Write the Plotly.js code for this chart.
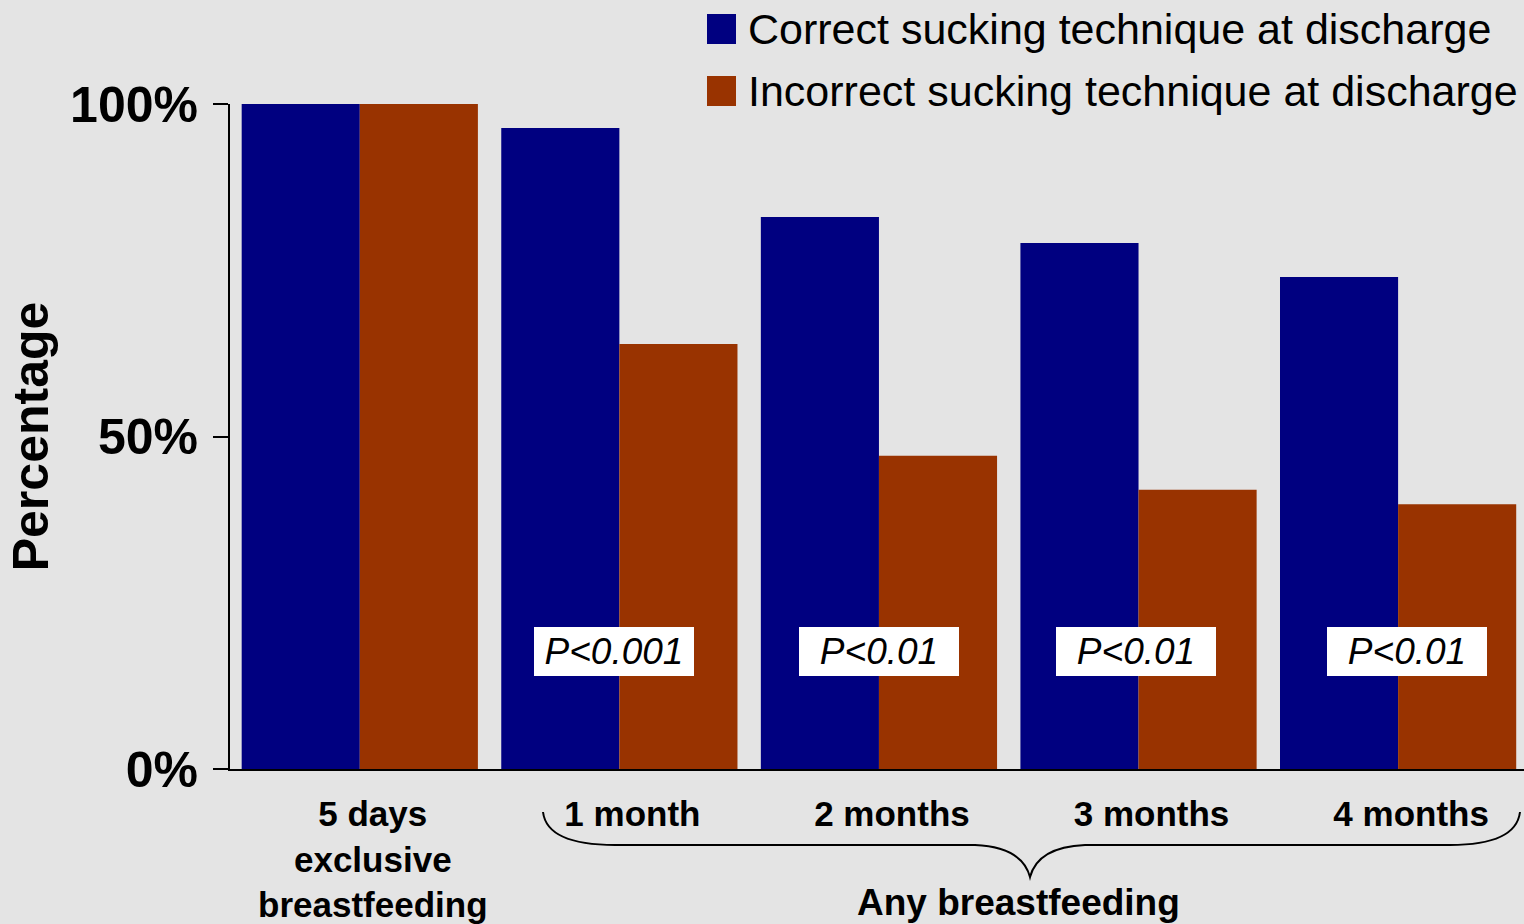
<!DOCTYPE html>
<html>
<head>
<meta charset="utf-8">
<script src="https://cdn.plot.ly/plotly-3.0.1.min.js"></script>
<style>
  html, body { margin: 0; padding: 0; background: #e4e4e4; }
  #chart { width: 1524px; height: 924px; }
</style>
</head>
<body>
<div id="chart"></div>
<script>
const categories = ["5 days<br>exclusive<br>breastfeeding", "1 month", "2 months", "3 months", "4 months"];
const correctValues = [100, 96.4, 83.0, 79.1, 74.0];
const incorrectValues = [100, 63.9, 47.1, 42.0, 39.8];
const seriesNames = ["Correct sucking technique at discharge", "Incorrect sucking technique at discharge"];
const pLabels = ["P<0.001", "P<0.01", "P<0.01", "P<0.01"];
const pCategories = ["1 month", "2 months", "3 months", "4 months"];
const groupLabel = "Any breastfeeding";
const yTickVals = [0, 50, 100];
const yTickText = ["0%", "50%", "100%"];

const BLUE = "#000080", ORANGE = "#993300";
const FONT = "Liberation Sans, Arial, sans-serif";

// plot area geometry (pixels) for decorative shapes
const L = 230, R = 1524, T = 104, B = 769;
const px = x => (x - L) / (R - L);
const py = y => (B - y) / (B - T);

const traces = [
  { type: "bar", name: seriesNames[0], x: categories, y: correctValues, marker: { color: BLUE }, hoverinfo: "y" },
  { type: "bar", name: seriesNames[1], x: categories, y: incorrectValues, marker: { color: ORANGE }, hoverinfo: "y" }
];

const annotations = pLabels.map((t, i) => ({
  x: pCategories[i], y: 17.6, xref: "x", yref: "y",
  text: t, showarrow: false,
  font: { family: FONT, size: 37, color: "#000", style: "italic" },
  bgcolor: "#ffffff", borderwidth: 0, borderpad: 2,
  width: 156, height: 45, xanchor: "center", yanchor: "middle",
  xshift: [-5, 0, -3, 9][i]
}));

annotations.push({
  x: px(1018), y: py(902), xref: "paper", yref: "paper",
  text: groupLabel, showarrow: false,
  font: { family: FONT, size: 37, color: "#000", weight: "bold" },
  xanchor: "center", yanchor: "middle"
});

// custom legend
const legendColors = [BLUE, ORANGE];
const legendY = [29, 91];
const shapes = [];
seriesNames.forEach((n, i) => {
  shapes.push({
    type: "rect", xref: "paper", yref: "paper",
    x0: px(707), x1: px(736), y0: py(legendY[i] + 15), y1: py(legendY[i] - 15),
    fillcolor: legendColors[i], line: { width: 0 }
  });
  annotations.push({
    x: px(746), y: py(legendY[i]), xref: "paper", yref: "paper",
    text: n, showarrow: false, xanchor: "left", yanchor: "middle",
    font: { family: FONT, size: 43, color: "#000" }
  });
});

// curly brace under the "any breastfeeding" categories
const bp = (x, y) => px(x).toFixed(5) + "," + py(y).toFixed(5);
shapes.push({
  type: "path", xref: "paper", yref: "paper",
  path: "M" + bp(543, 812) + " Q" + bp(547, 845) + " " + bp(615, 845) +
        " L" + bp(975, 845) + " Q" + bp(1022, 847) + " " + bp(1030, 877) +
        " Q" + bp(1038, 847) + " " + bp(1085, 845) +
        " L" + bp(1450, 845) + " Q" + bp(1516, 845) + " " + bp(1520, 812),
  line: { color: "#000", width: 2 }
});

const layout = {
  width: 1524, height: 924,
  margin: { l: L, r: 0, t: T, b: 924 - B },
  paper_bgcolor: "#e4e4e4",
  plot_bgcolor: "rgba(0,0,0,0)",
  barmode: "group",
  bargap: 0.09,
  bargroupgap: 0,
  showlegend: false,
  xaxis: {
    type: "category",
    range: [-0.5, 4.485],
    showline: true, linecolor: "#000", linewidth: 2,
    ticks: "", showgrid: false, zeroline: false,
    tickfont: { family: FONT, size: 35, color: "#000", weight: "bold" },
    ticklabelstandoff: 13,
    ticklabelshift: 13,
    fixedrange: true
  },
  yaxis: {
    range: [0, 100],
    tickmode: "array", tickvals: yTickVals, ticktext: yTickText,
    showline: true, linecolor: "#000", linewidth: 2,
    ticks: "outside", ticklen: 15, tickwidth: 2, tickcolor: "#000",
    showgrid: false, zeroline: false,
    tickfont: { family: FONT, size: 50, color: "#000", weight: "bold" },
    ticklabelstandoff: 5,
    title: { text: "Percentage", font: { family: FONT, size: 50, color: "#000", weight: "bold" }, standoff: 6 },
    fixedrange: true
  },
  annotations: annotations,
  shapes: shapes
};

Plotly.newPlot("chart", traces, layout, { displayModeBar: false, staticPlot: true });
</script>
</body>
</html>
